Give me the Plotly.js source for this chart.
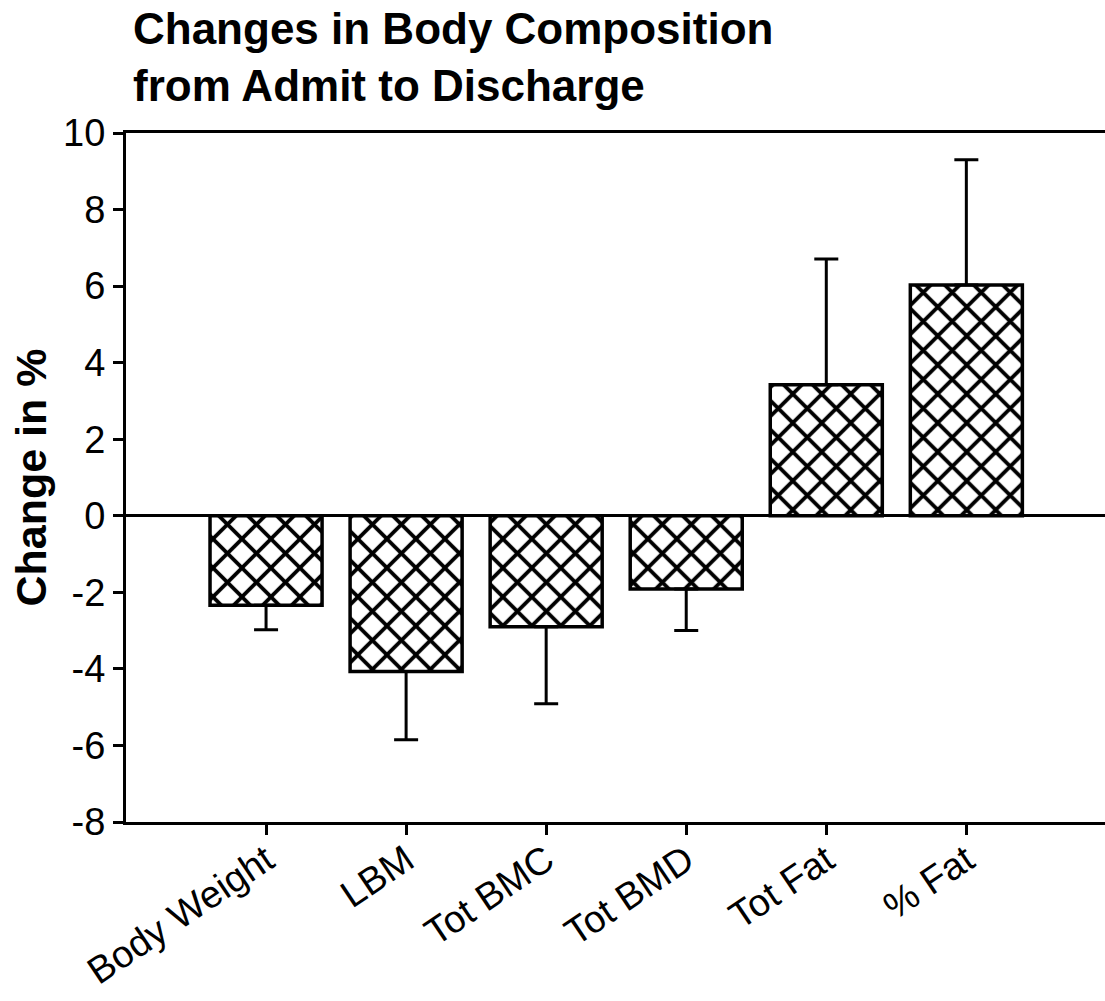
<!DOCTYPE html>
<html>
<head>
<meta charset="utf-8">
<script src="https://cdn.plot.ly/plotly-3.0.1.min.js"></script>
<style>html,body{margin:0;padding:0;background:#fff;}#chart{width:1105px;height:1001px;}</style>
</head>
<body>
<div id="chart"></div>
<script>
// Data
const categories = ["Body Weight", "LBM", "Tot BMC", "Tot BMD", "Tot Fat", "% Fat"];
const changePct = [-2.34, -4.07, -2.90, -1.91, 3.42, 6.03];
const errUp = [0, 0, 0, 0, 3.29, 3.27];
const errDown = [0.64, 1.78, 2.01, 1.09, 0, 0];
const yTickVals = [-8, -6, -4, -2, 0, 2, 4, 6, 8, 10];

const FONT = "Liberation Sans, Arial, Helvetica, sans-serif";

const trace = {
  type: "bar",
  x: categories.map((_, i) => i),
  y: changePct,
  width: 0.8,
  marker: {
    color: "#ffffff",
    line: { color: "#000000", width: 3.5 },
    pattern: { shape: "x", fgcolor: "#000000", fgopacity: 1, bgcolor: "#ffffff", size: 20.5, solidity: 0.33, fillmode: "overlay" }
  },
  error_y: {
    type: "data",
    symmetric: false,
    array: errUp,
    arrayminus: errDown,
    color: "#000000",
    thickness: 3,
    width: 12
  },
  hoverinfo: "skip"
};

const layout = {
  width: 1105,
  height: 1001,
  margin: { l: 126, r: 0, t: 133, b: 179, pad: 0 },
  paper_bgcolor: "#ffffff",
  plot_bgcolor: "#ffffff",
  showlegend: false,
  font: { family: FONT, color: "#000000" },
  title: {
    text: "<b>Changes in Body Composition<br>from Admit to Discharge</b>",
    font: { family: FONT, size: 44, color: "#000000" },
    xref: "container", yref: "container",
    x: 133 / 1105, xanchor: "left",
    y: 1 - 44 / 1001, yanchor: "top"
  },
  xaxis: {
    range: [-1.0, 5.99],
    tickmode: "array",
    tickvals: categories.map((_, i) => i),
    ticktext: categories,
    tickangle: -34,
    ticks: "outside",
    ticklen: 10,
    tickwidth: 3,
    tickcolor: "#000000",
    ticklabelstandoff: -12,
    showline: true,
    linecolor: "#000000",
    linewidth: 3,
    mirror: true,
    showgrid: false,
    zeroline: false,
    tickfont: { family: FONT, size: 38, color: "#000000" },
    fixedrange: true
  },
  yaxis: {
    range: [-8, 10],
    tickmode: "array",
    tickvals: yTickVals,
    ticktext: yTickVals.map(String),
    ticks: "outside",
    ticklen: 10,
    tickwidth: 3,
    tickcolor: "#000000",
    showline: true,
    linecolor: "#000000",
    linewidth: 3,
    showgrid: false,
    zeroline: true,
    zerolinecolor: "#000000",
    zerolinewidth: 3,
    tickfont: { family: FONT, size: 38, color: "#000000" },
    title: { text: "<b>Change in %</b>", font: { family: FONT, size: 43, color: "#000000" }, standoff: 4 },
    fixedrange: true
  }
};

Plotly.newPlot("chart", [trace], layout, { displayModeBar: false, staticPlot: true });
</script>
</body>
</html>
